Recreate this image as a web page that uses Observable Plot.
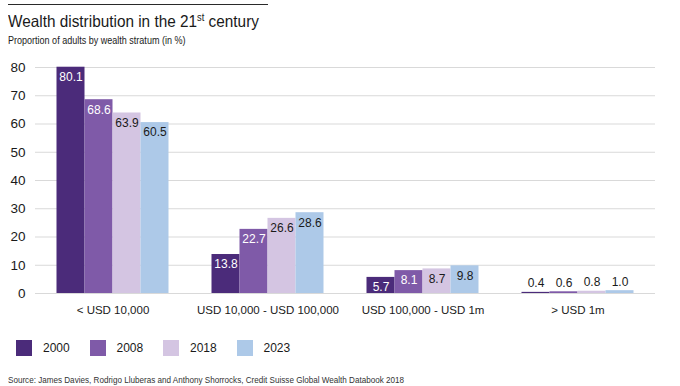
<!DOCTYPE html>
<html>
<head>
<meta charset="utf-8">
<script src="https://cdn.jsdelivr.net/npm/d3@7"></script>
<script src="https://cdn.jsdelivr.net/npm/@observablehq/plot@0.6"></script>
<style>
  body { margin: 0; background: #fff; font-family: "Liberation Sans", Arial, sans-serif; color: #1a1a1a; }
  #wrap { position: relative; width: 680px; height: 386px; overflow: hidden; }
  #topline { position: absolute; left: 8px; top: 4px; width: 260px; height: 0; border-top: 1.5px solid #2a2a2a; }
  #title { position: absolute; left: 8px; top: 11px; font-size: 16.5px; line-height: 20px; white-space: nowrap; transform-origin: 0 0; transform: scaleX(0.93); }
  #title sup { font-size: 10px; vertical-align: 0; position: relative; top: -6px; }
  #subtitle { position: absolute; left: 8px; top: 33px; font-size: 11px; line-height: 14px; white-space: nowrap; transform-origin: 0 0; transform: scaleX(0.82); }
  #chart { position: absolute; left: 0; top: 50px; }
  #legend { position: absolute; left: 16px; top: 340px; display: flex; font-size: 12px; }
  .item { display: flex; align-items: center; width: 73.5px; }
  .sw { width: 16px; height: 16px; margin-right: 11px; }
  #source { position: absolute; left: 8px; top: 375px; font-size: 9px; color: #333; white-space: nowrap; transform-origin: 0 0; transform: scaleX(0.9); }
</style>
</head>
<body>
<div id="wrap">
  <div id="topline"></div>
  <div id="title">Wealth distribution in the 21<sup>st</sup> century</div>
  <div id="subtitle">Proportion of adults by wealth stratum (in %)</div>
  <div id="chart"></div>
  <div id="legend"></div>
  <div id="source">Source: James Davies, Rodrigo Lluberas and Anthony Shorrocks, Credit Suisse Global Wealth Databook 2018</div>
</div>
<script>
const categories = ["< USD 10,000", "USD 10,000 - USD 100,000", "USD 100,000 - USD 1m", "> USD 1m"];
const years = ["2000", "2008", "2018", "2023"];
const values2000 = [80.1, 13.8, 5.7, 0.4];
const values2008 = [68.6, 22.7, 8.1, 0.6];
const values2018 = [63.9, 26.6, 8.7, 0.8];
const values2023 = [60.5, 28.6, 9.8, 1.0];
const yTicks = [0, 10, 20, 30, 40, 50, 60, 70, 80];
const colors = ["#4b2b7a", "#7f5aa8", "#d4c5e2", "#adc9e8"];

const series = [values2000, values2008, values2018, values2023];
const data = [];
categories.forEach((c, i) => {
  years.forEach((y, j) => data.push({category: c, year: y, value: series[j][i]}));
});

const font = '"Liberation Sans", Arial, sans-serif';
const big = d => d.value >= 3;
const fmt = d => d.value.toFixed(1);

const chart = Plot.plot({
  width: 680,
  height: 270,
  marginTop: 17,
  marginLeft: 34.5,
  marginRight: 25.5,
  marginBottom: 27,
  style: {fontFamily: font, fontSize: "13px", color: "#1a1a1a", background: "transparent"},
  fx: {domain: categories, padding: 0, label: null},
  x: {domain: years, paddingOuter: 0.75, paddingInner: 0, axis: null},
  y: {domain: [0, 80], label: null},
  color: {domain: years, range: colors},
  marks: [
    Plot.ruleY(yTicks, {stroke: "#d9d9d9", strokeWidth: 1}),
    Plot.barY(data, {fx: "category", x: "year", y: "value", fill: "year"}),
    Plot.text(data.filter(d => big(d) && (d.year === "2000" || d.year === "2008")),
      {fx: "category", x: "year", y: "value", text: fmt, dy: 10, fill: "white", fontSize: 12}),
    Plot.text(data.filter(d => big(d) && (d.year === "2018" || d.year === "2023")),
      {fx: "category", x: "year", y: "value", text: fmt, dy: 10, fill: "#1a1a1a", fontSize: 12}),
    Plot.text(data.filter(d => !big(d)),
      {fx: "category", x: "year", y: "value", text: fmt, dy: -9, fill: "#1a1a1a", fontSize: 12}),
    Plot.axisY({ticks: yTicks, tickSize: 0, tickPadding: 10, fontSize: 13.5, label: null}),
    Plot.axisFx({anchor: "bottom", tickSize: 0, tickPadding: 12, fontSize: 11.5, label: null})
  ]
});
document.getElementById("chart").appendChild(chart);

const legend = document.getElementById("legend");
years.forEach((y, j) => {
  const item = document.createElement("div");
  item.className = "item";
  const sw = document.createElement("div");
  sw.className = "sw";
  sw.style.background = colors[j];
  const t = document.createElement("span");
  t.textContent = y;
  item.appendChild(sw);
  item.appendChild(t);
  legend.appendChild(item);
});
</script>
</body>
</html>
